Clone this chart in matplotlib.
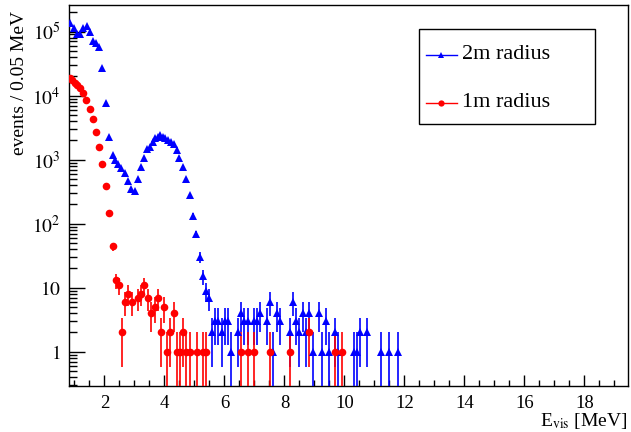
import numpy as np
import matplotlib
matplotlib.use("Agg")
import matplotlib.pyplot as plt
from matplotlib.ticker import MultipleLocator, LogLocator, FuncFormatter, NullFormatter
from matplotlib.lines import Line2D
from matplotlib.patches import Rectangle

plt.rcParams["font.family"] = ["Liberation Serif", "DejaVu Serif"]
plt.rcParams["mathtext.fontset"] = "stix"

# visible energy spectrum, 2m radius cut
e_2m = [0.86, 0.97, 1.08, 1.19, 1.30, 1.41, 1.52, 1.61, 1.72, 1.83, 1.93, 2.06,
        2.16, 2.27, 2.36, 2.45, 2.55, 2.68, 2.80, 2.90, 3.03, 3.12, 3.22, 3.33,
        3.43, 3.52, 3.61, 3.69, 3.78, 3.86, 3.95, 4.03, 4.13, 4.22, 4.31, 4.41,
        4.50, 4.62, 4.72, 4.84, 4.96, 5.06, 5.17, 5.27, 5.38, 5.48, 5.60, 5.69,
        5.80, 5.91, 6.02, 6.13, 6.23, 6.45, 6.56, 6.66, 6.77, 6.99, 7.09, 7.20,
        7.42, 7.52, 7.63, 7.75, 7.86, 8.17, 8.28, 8.39, 8.50, 8.61, 8.72, 8.83,
        8.95, 9.16, 9.26, 9.37, 9.48, 9.69, 9.80, 10.32, 10.43, 10.53, 10.75,
        11.22, 11.49, 11.79]
n_2m = [135000, 113000, 92000, 92000, 113000, 123000, 100000, 72000, 66000, 58000,
        27000, 7600, 2290, 1180, 990, 857, 734, 613, 465, 352, 328, 494, 777, 1063,
        1454, 1600, 1910, 2160, 2290, 2430, 2290, 2200, 2030, 1910, 1760, 1416,
        1050, 760, 490, 276, 133, 69, 30, 15, 9, 7, 2, 3,
        3, 2, 3, 3, 1, 2, 4, 3, 3, 3, 3, 4,
        3, 6, 1, 4, 3, 2, 6, 3, 2, 4, 2, 4,
        1, 4, 1, 3, 1, 2, 1, 1, 1, 2, 2,
        1, 1, 1]

# visible energy spectrum, 1m radius cut
e_1m = [0.86, 0.93, 1.01, 1.10, 1.19, 1.30, 1.40, 1.51, 1.61, 1.71, 1.83, 1.93,
        2.06, 2.16, 2.27, 2.37, 2.48, 2.59, 2.69, 2.80, 2.91, 3.12, 3.23, 3.33,
        3.45, 3.56, 3.67, 3.77, 3.88, 3.99, 4.09, 4.20, 4.31, 4.41, 4.52, 4.63,
        4.73, 4.84, 5.07, 5.28, 5.38, 6.56, 6.77, 6.99, 7.52, 8.17, 8.81, 9.69,
        9.91]
n_1m = [18700, 17600, 16000, 14700, 13100, 11100, 8500, 6270, 4370, 2680, 1600, 866,
        388, 145, 44, 13, 11, 2, 6, 8, 6, 7, 8, 11,
        7, 4, 5, 7, 2, 5, 1, 2, 4, 1, 1, 2,
        1, 1, 1, 1, 1, 1, 1, 1, 1, 1, 2, 1,
        1]

fig = plt.figure(figsize=(6.31, 4.32), dpi=100)
ax = fig.add_axes([69 / 631, 1 - 385.7 / 432, 559 / 631, 380.7 / 432])


def draw_spectrum(e, n, color, marker, size):
    n = np.asarray(n, dtype=float)
    err = np.sqrt(n)
    low = np.minimum(err, n - 1e-6)
    ax.errorbar(e, n, yerr=[low, err], fmt=marker, color=color, ms=size,
                mec=color, mew=0, elinewidth=1.2, capsize=0, zorder=3)


draw_spectrum(e_2m, n_2m, "#0000ff", "^", 5.5)
draw_spectrum(e_1m, n_1m, "#ff0000", "o", 5.5)

ax.set_yscale("log")
ax.set_xlim(0.82, 19.45)
ax.set_ylim(0.294, 2.6e5)

ax.xaxis.set_major_locator(MultipleLocator(2))
ax.xaxis.set_minor_locator(MultipleLocator(0.5))
ax.yaxis.set_major_locator(LogLocator(base=10, numticks=10))
ax.yaxis.set_minor_locator(LogLocator(base=10, subs=np.arange(2, 10), numticks=20))
ax.yaxis.set_minor_formatter(NullFormatter())


def ylab(v, pos):
    k = int(round(np.log10(v)))
    if k == 0:
        return "$1$"
    if k == 1:
        return "$10$"
    return "$10^{%d}$" % k


ax.yaxis.set_major_formatter(FuncFormatter(ylab))

ax.tick_params(axis="both", which="both", direction="in", top=False, right=False, width=1)
ax.tick_params(axis="x", which="major", length=8, pad=6.5, labelsize=13.5)
ax.tick_params(axis="x", which="minor", length=4)
ax.tick_params(axis="y", which="major", length=11.5, pad=6, labelsize=14)
ax.tick_params(axis="y", which="minor", length=5.5)
for sp in ax.spines.values():
    sp.set_linewidth(1)

ax.set_xlabel(r"E$_{\rm vis}$ [MeV]", fontsize=14, ha="right", va="baseline")
ax.xaxis.set_label_coords(1.0, -0.105)
ax.set_ylabel("events / 0.05 MeV", fontsize=14, loc="top")
ax.yaxis.set_label_coords(-0.074, 0.985)

# legend box
ax.add_patch(Rectangle((0.6267, 0.6874), 0.3143, 0.2488, transform=ax.transAxes,
                       facecolor="white", edgecolor="black", lw=1, zorder=5))
entries = [("2m radius", "#0000ff", "^", 0.8687), ("1m radius", "#ff0000", "o", 0.7426)]
for label, color, marker, y in entries:
    ax.add_line(Line2D([0.6386, 0.6935], [y, y], transform=ax.transAxes, color=color,
                       lw=1, zorder=6))
    ax.add_line(Line2D([0.666], [y], transform=ax.transAxes, color=color, marker=marker,
                       ms=4.5, mew=0, zorder=7))
    ax.text(0.7025, y, label, transform=ax.transAxes, fontsize=16, va="center",
            ha="left", zorder=7)

fig.savefig("out.png", dpi=100)
